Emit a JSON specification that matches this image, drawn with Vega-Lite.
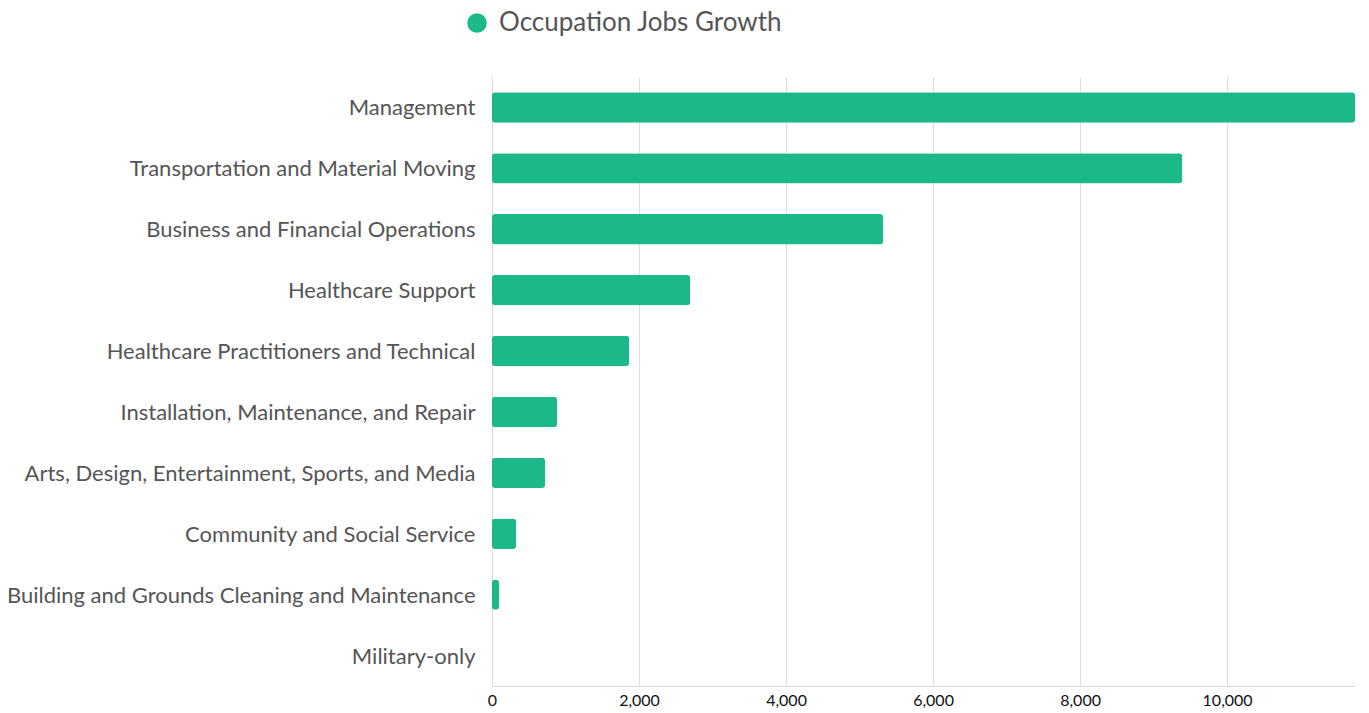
{
  "$schema": "https://vega.github.io/schema/vega-lite/v6.json",
  "autosize": "none",
  "width": 863,
  "height": 609,
  "padding": {"left": 492, "top": 77, "right": 14, "bottom": 27},
  "background": "white",
  "config": {"font": "Lato", "view": {"stroke": null}},
  "data": {"values": [
    {"occupation": "Management", "growth": 11740, "series": "Occupation Jobs Growth"},
    {"occupation": "Transportation and Material Moving", "growth": 9390, "series": "Occupation Jobs Growth"},
    {"occupation": "Business and Financial Operations", "growth": 5320, "series": "Occupation Jobs Growth"},
    {"occupation": "Healthcare Support", "growth": 2695, "series": "Occupation Jobs Growth"},
    {"occupation": "Healthcare Practitioners and Technical", "growth": 1865, "series": "Occupation Jobs Growth"},
    {"occupation": "Installation, Maintenance, and Repair", "growth": 885, "series": "Occupation Jobs Growth"},
    {"occupation": "Arts, Design, Entertainment, Sports, and Media", "growth": 722, "series": "Occupation Jobs Growth"},
    {"occupation": "Community and Social Service", "growth": 328, "series": "Occupation Jobs Growth"},
    {"occupation": "Building and Grounds Cleaning and Maintenance", "growth": 95, "series": "Occupation Jobs Growth"},
    {"occupation": "Military-only", "growth": 0, "series": "Occupation Jobs Growth"}
  ]},
  "mark": {"type": "bar", "cornerRadius": 3, "height": {"band": 0.5}},
  "encoding": {
    "y": {
      "field": "occupation", "type": "nominal", "sort": null,
      "scale": {"paddingInner": 0, "paddingOuter": 0},
      "axis": {"title": null, "ticks": false, "labelFontSize": 22, "labelColor": "#555555", "labelPadding": 17, "labelLimit": 600, "labelOffset": 1, "domainColor": "#d9d9d9", "grid": false}
    },
    "x": {
      "field": "growth", "type": "quantitative",
      "scale": {"domain": [0, 11740], "nice": false},
      "axis": {"title": null, "ticks": false, "values": [0, 2000, 4000, 6000, 8000, 10000], "format": ",d", "labelFontSize": 16, "labelColor": "#111111", "labelPadding": 6, "domainColor": "#d9d9d9", "gridColor": "#dddddd", "labelFlush": false}
    },
    "color": {
      "field": "series", "type": "nominal",
      "scale": {"range": ["#1bb98a"]},
      "legend": {"title": null, "orient": "none", "legendX": -28, "legendY": -67, "symbolType": "circle", "symbolSize": 380, "labelFontSize": 26, "labelLimit": 500, "labelColor": "#555555", "labelOffset": 9, "symbolStrokeWidth": 0}
    }
  }
}
